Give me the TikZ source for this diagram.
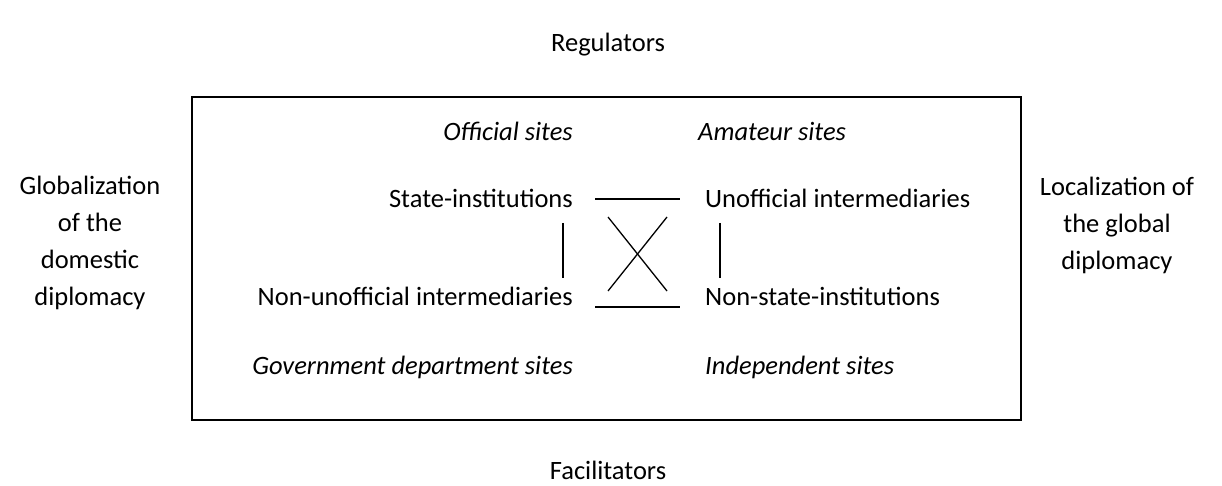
\documentclass[tikz,border=0pt]{standalone}
\usepackage{fontspec}
\setmainfont{Carlito}
\begin{document}
\begin{tikzpicture}[x=1pt,y=-1pt,
  lbl/.style={inner sep=0pt,font=\fontsize{26.5}{37}\selectfont},
  ital/.style={lbl,font=\fontsize{26.5}{37}\selectfont\itshape},
  ln/.style={line width=1.3pt}]
\useasboundingbox (0,0) rectangle (1222,486);
\draw[ln] (192,97) rectangle (1021,420);
\node[lbl] (reg) at (608,45) {Regulators};
\node[lbl] (fac) at (608,470) {Facilitators};
\node[lbl,align=center] (glob) at (90,243) {Globalization\\of the\\domestic\\diplomacy};
\node[lbl,align=center] (loc) at (1117,225) {Localization of\\the global\\diplomacy};
\node[ital,anchor=base east] (off) at (573,141) {Official sites};
\node[ital,anchor=base west] (ama) at (698,141) {Amateur sites};
\node[lbl,anchor=base east] (si) at (573,208) {State-institutions};
\node[lbl,anchor=base west] (ui) at (705,208) {Unofficial intermediaries};
\node[lbl,anchor=base east] (nui) at (573,305) {Non-unofficial intermediaries};
\node[lbl,anchor=base west] (nsi) at (705,305) {Non-state-institutions};
\node[ital,anchor=base east] (gov) at (573,374) {Government department sites};
\node[ital,anchor=base west] (ind) at (705,374) {Independent sites};
\coordinate (t1) at (595,199); \coordinate (t2) at (680,199);
\coordinate (b1) at (595,307); \coordinate (b2) at (680,307);
\coordinate (c1) at (608,217); \coordinate (c2) at (667,291);
\coordinate (c3) at (667,217); \coordinate (c4) at (608,291);
\coordinate (l1) at (563,223); \coordinate (l2) at (563,278);
\coordinate (r1) at (720,223); \coordinate (r2) at (720,278);
\draw[ln] (t1) -- (t2);
\draw[ln] (b1) -- (b2);
\draw[ln] (c1) -- (c2);
\draw[ln] (c3) -- (c4);
\draw[ln] (l1) -- (l2);
\draw[ln] (r1) -- (r2);
\end{tikzpicture}
\end{document}
